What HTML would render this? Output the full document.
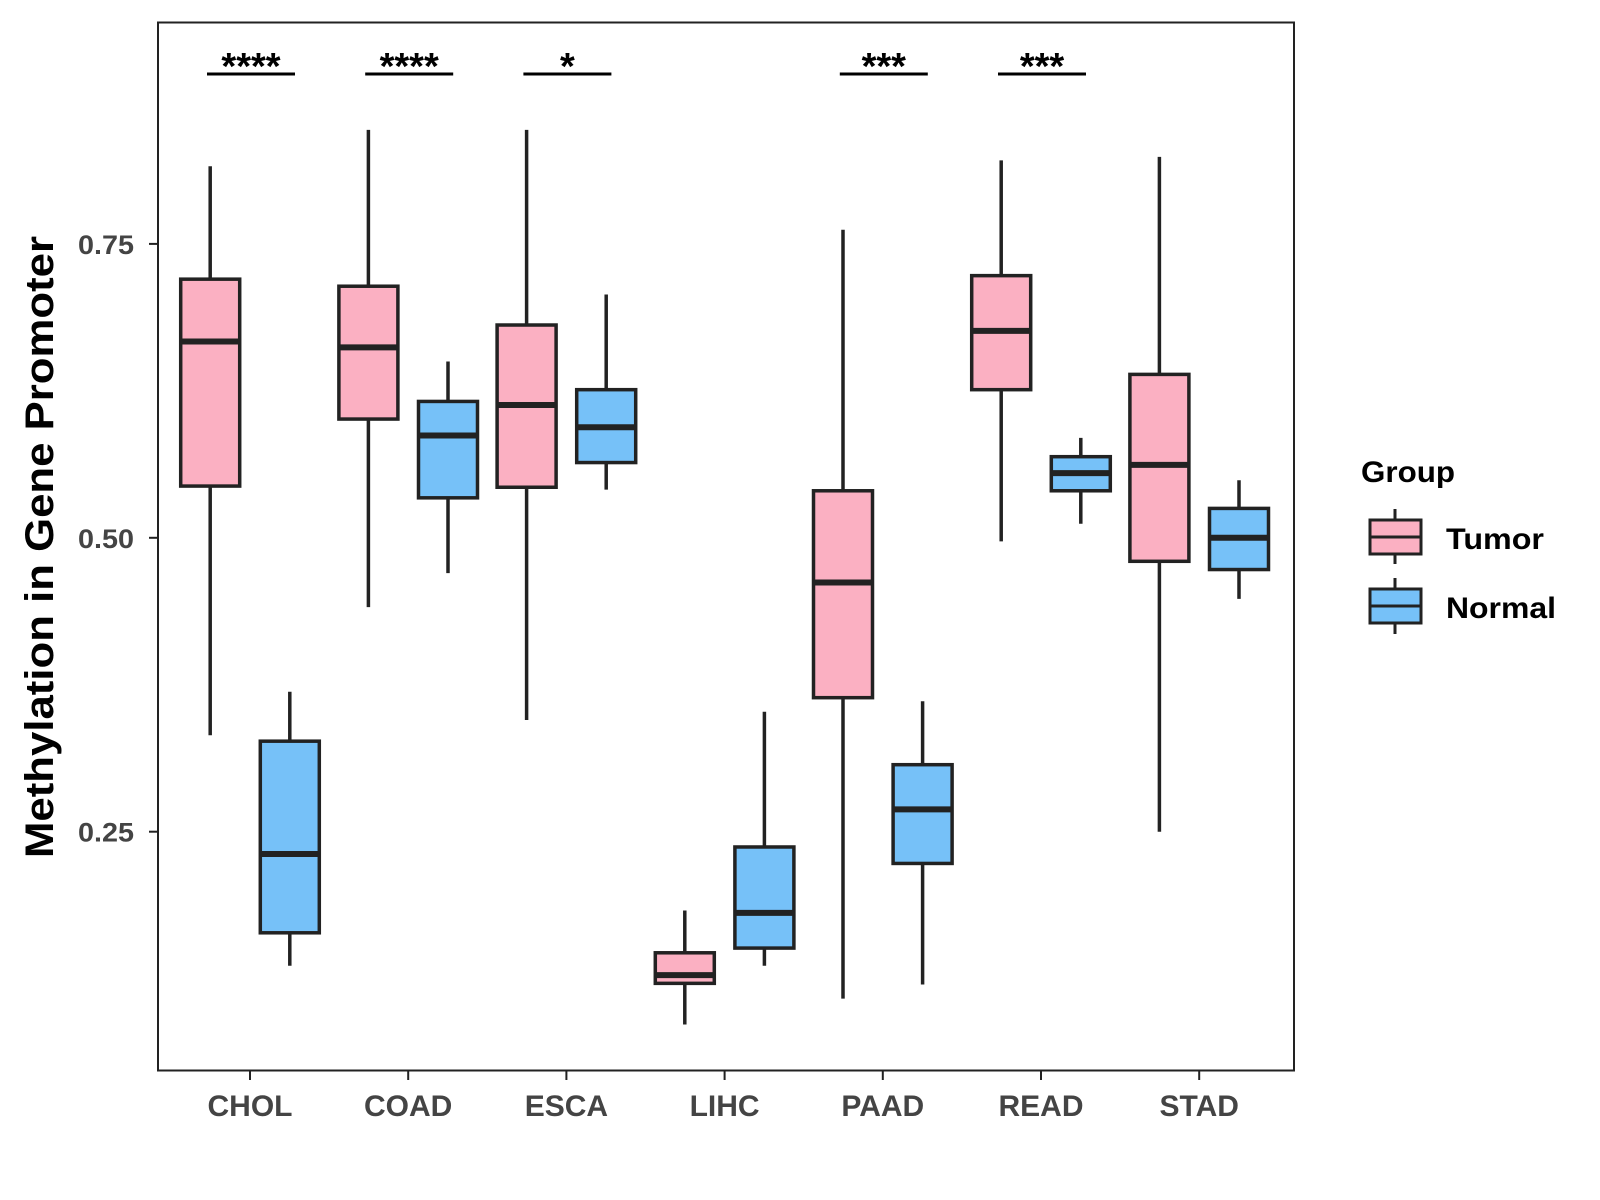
<!DOCTYPE html>
<html><head><meta charset="utf-8"><style>
html,body{margin:0;padding:0;background:#fff;}
svg{display:block;font-family:"Liberation Sans",Arial,sans-serif;}
</style></head><body>
<svg id="chart" width="1600" height="1200" viewBox="0 0 1600 1200" xmlns="http://www.w3.org/2000/svg">
<rect x="0" y="0" width="1600" height="1200" fill="#fff"/>
<g id="plot"></g>
<rect x="158" y="22.5" width="1136" height="1048" fill="none" stroke="#222" stroke-width="2"/>
<text transform="translate(53,547) rotate(-90)" text-anchor="middle" font-size="40" font-weight="bold" fill="#000" textLength="622" lengthAdjust="spacingAndGlyphs">Methylation in Gene Promoter</text>
<g>
<text x="1361" y="482" font-size="30" font-weight="bold" fill="#000" textLength="94" lengthAdjust="spacingAndGlyphs">Group</text>
<g>
<line x1="1395" y1="509" x2="1395" y2="564" stroke="#222" stroke-width="3"/>
<rect x="1370" y="520" width="51" height="34" fill="#FBB0C2" stroke="#222" stroke-width="3"/>
<line x1="1370" y1="537" x2="1421" y2="537" stroke="#222" stroke-width="3"/>
<text x="1446" y="549" font-size="30" font-weight="bold" fill="#000" textLength="98" lengthAdjust="spacingAndGlyphs">Tumor</text>
</g>
<g>
<line x1="1395" y1="578" x2="1395" y2="634" stroke="#222" stroke-width="3"/>
<rect x="1370" y="589" width="51" height="34" fill="#76C1F8" stroke="#222" stroke-width="3"/>
<line x1="1370" y1="606" x2="1421" y2="606" stroke="#222" stroke-width="3"/>
<text x="1446" y="618" font-size="30" font-weight="bold" fill="#000" textLength="110" lengthAdjust="spacingAndGlyphs">Normal</text>
</g>
</g>
</svg>
<script>
const categories=["CHOL","COAD","ESCA","LIHC","PAAD","READ","STAD"];
// [whiskerLow, Q1, median, Q3, whiskerHigh]
const tumorStats=[[0.332,0.544,0.667,0.720,0.816],[0.441,0.601,0.662,0.714,0.847],[0.345,0.543,0.613,0.681,0.847],[0.086,0.121,0.128,0.147,0.183],[0.108,0.364,0.462,0.540,0.762],[0.497,0.626,0.676,0.723,0.821],[0.250,0.480,0.562,0.639,0.824]];
const normalStats=[[0.136,0.164,0.231,0.327,0.369],[0.470,0.534,0.587,0.616,0.650],[0.541,0.564,0.594,0.626,0.707],[0.136,0.151,0.181,0.237,0.352],[0.120,0.223,0.269,0.307,0.361],[0.512,0.540,0.555,0.569,0.585],[0.448,0.473,0.500,0.525,0.549]];
const sigLabels=["****","****","*","","***","***",""];
const yTicks=[0.25,0.50,0.75];
const yTickLabels=["0.25","0.50","0.75"];

const NS="http://www.w3.org/2000/svg";
const g=document.getElementById('plot');
function y(v){return 537.8-(v-0.5)*1175.6;}
function x(i){return 250+i*158.2;}
function el(t,a,p){const e=document.createElementNS(NS,t);for(const k in a)e.setAttribute(k,a[k]);(p||g).appendChild(e);return e;}

yTicks.forEach((v,i)=>{
  const t=el('line',{x1:149,x2:158,y1:y(v),y2:y(v),stroke:'#222','stroke-width':2});
  
  
  const l=el('text',{x:134,y:y(v)+10,'text-anchor':'end','font-size':27,'font-weight':'bold',fill:'#444',textLength:56,lengthAdjust:'spacingAndGlyphs'});
  l.textContent=yTickLabels[i];
  
  
});

function box(cx,s,fill,name){
  const grp=el('g',{});
  
  
  const hw=29.5;
  el('line',{x1:cx,x2:cx,y1:y(s[4]),y2:y(s[0]),stroke:'#222','stroke-width':3.5},grp);
  el('rect',{x:cx-hw,y:y(s[3]),width:hw*2,height:y(s[1])-y(s[3]),fill:fill,stroke:'#222','stroke-width':3.5},grp);
  el('line',{x1:cx-hw,x2:cx+hw,y1:y(s[2]),y2:y(s[2]),stroke:'#222','stroke-width':6},grp);
}

categories.forEach((c,i)=>{
  const cx=x(i);
  box(cx-39.8,tumorStats[i],'#FBB0C2','box-tumor-'+c.toLowerCase());
  box(cx+39.8,normalStats[i],'#76C1F8','box-normal-'+c.toLowerCase());
  const t=el('line',{x1:cx,x2:cx,y1:1071,y2:1080,stroke:'#222','stroke-width':2});
  
  
  const l=el('text',{x:cx,y:1116,'text-anchor':'middle','font-size':30,'font-weight':'bold',fill:'#444'});
  l.textContent=c;
  
  
  if(sigLabels[i]){
    const sg=el('g',{});
    
    
    el('line',{x1:cx-43,x2:cx+45,y1:74,y2:74,stroke:'#000','stroke-width':3},sg);
    const st=el('text',{x:cx+1,y:79,'text-anchor':'middle','font-size':38,'font-weight':'bold',fill:'#000'},sg);
    st.textContent=sigLabels[i];
  }
});
</script>
</body></html>
